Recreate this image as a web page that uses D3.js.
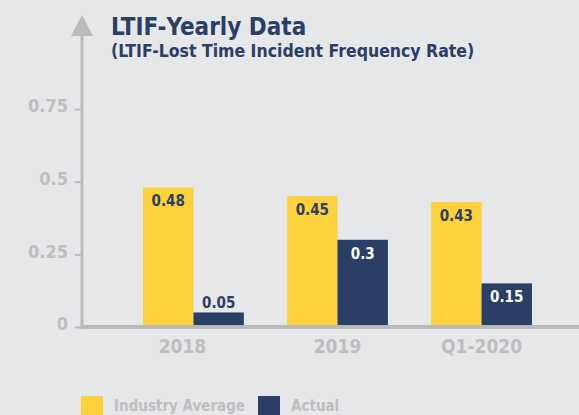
<!DOCTYPE html>
<html>
<head>
<meta charset="utf-8">
<script src="https://cdn.jsdelivr.net/npm/d3@7"></script>
<style>
  html, body { margin: 0; padding: 0; background: #e6e7e9; }
  svg text { font-family: "DejaVu Sans Condensed", sans-serif; font-weight: bold; }
</style>
</head>
<body>
<div id="chart"></div>
<script>
// data
var categories = ["2018", "2019", "Q1-2020"];
var seriesNames = ["Industry Average", "Actual"];
var industryAverage = [0.48, 0.45, 0.43];
var actual = [0.05, 0.3, 0.15];
var yTicks = [0, 0.25, 0.5, 0.75];

var svgWidth = 579, svgHeight = 415;
var navy = "#2b3e65", yellow = "#fdd13b", gray = "#b9babc", labelGray = "#bdbec0";

var svg = d3.select("#chart").append("svg")
    .attr("width", svgWidth)
    .attr("height", svgHeight);

var axisX = 82;      // vertical axis position
var baseY = 327;     // horizontal axis position

// scales
var y = d3.scaleLinear().domain([0, 0.75]).range([baseY, 109]);
var x0 = d3.scaleBand().domain(categories)
    .range([71, 604]).paddingInner(0.3).paddingOuter(0.5);
var x1 = d3.scaleBand().domain(seriesNames).range([0, x0.bandwidth()]);

var rows = categories.map(function(c, i) {
    return {cat: c, values: [
        {name: seriesNames[0], value: industryAverage[i]},
        {name: seriesNames[1], value: actual[i]}
    ]};
});
var colour = d3.scaleOrdinal().domain(seriesNames).range([yellow, navy]);

// title
var title = svg.append("text").attr("x", 111).attr("y", 35)
    .attr("font-size", 24).attr("fill", navy);
title.append("tspan").text("LTIF-").style("font-weight", 900);
title.append("tspan").text("Yearly Data");
svg.append("text").attr("x", 111).attr("y", 57)
    .attr("font-size", 17.5).attr("fill", navy)
    .text("(LTIF-Lost Time Incident Frequency Rate)");

// bars
var groups = svg.selectAll("g.grp").data(rows).enter().append("g")
    .attr("class", "grp")
    .attr("transform", function(d) { return "translate(" + x0(d.cat) + ",0)"; });

groups.selectAll("rect").data(function(d) { return d.values; }).enter().append("rect")
    .attr("x", function(d) { return x1(d.name); })
    .attr("y", function(d) { return y(d.value); })
    .attr("width", x1.bandwidth())
    .attr("height", function(d) { return baseY - y(d.value); })
    .attr("fill", function(d) { return colour(d.name); });

// value labels: inside the top of the bar, above it when the bar is too short
groups.selectAll("text.val").data(function(d) { return d.values; }).enter().append("text")
    .attr("class", "val")
    .attr("x", function(d) { return x1(d.name) + x1.bandwidth() / 2; })
    .attr("y", function(d) {
        var h = baseY - y(d.value);
        return h > 30 ? y(d.value) + 19 : y(d.value) - 4;
    })
    .attr("text-anchor", "middle")
    .attr("font-size", 15)
    .attr("fill", function(d) {
        var h = baseY - y(d.value);
        return (d.name === "Actual" && h > 30) ? "#ffffff" : navy;
    })
    .text(function(d) { return d.value; });

// y axis
var leftAxis = d3.axisLeft(y).tickValues(yTicks)
    .tickFormat(function(d) { return d; })
    .tickSize(7).tickPadding(7);
var gy = svg.append("g").attr("transform", "translate(" + axisX + ",0)").call(leftAxis);
gy.select(".domain").remove();
gy.selectAll(".tick line").attr("stroke", gray).attr("stroke-width", 2);
gy.selectAll(".tick text").attr("fill", labelGray).attr("font-size", 18)
    .attr("dy", "0.15em")
    .style("font-family", "'DejaVu Sans Condensed', sans-serif")
    .style("font-weight", "bold");

svg.append("line").attr("x1", axisX).attr("x2", axisX)
    .attr("y1", 34).attr("y2", baseY + 2)
    .attr("stroke", gray).attr("stroke-width", 3);
svg.append("path")
    .attr("d", "M" + (axisX - 11) + ",36 L" + axisX + ",15 L" + (axisX + 11) + ",36 Z")
    .attr("fill", gray);

// x axis
svg.append("line").attr("x1", axisX - 1.5).attr("x2", svgWidth)
    .attr("y1", baseY).attr("y2", baseY)
    .attr("stroke", gray).attr("stroke-width", 4);
var xOffsets = [-11, 0, 0];
svg.selectAll("text.xlab").data(categories).enter().append("text")
    .attr("class", "xlab")
    .attr("x", function(d, i) { return x0(d) + x0.bandwidth() / 2 + xOffsets[i]; })
    .attr("y", 353)
    .attr("text-anchor", "middle")
    .attr("font-size", 19)
    .attr("fill", labelGray)
    .text(function(d) { return d; });

// legend
var legendX = [81, 258];
var legend = svg.selectAll("g.leg").data(seriesNames).enter().append("g")
    .attr("class", "leg")
    .attr("transform", function(d, i) { return "translate(" + legendX[i] + ",396)"; });
legend.append("rect").attr("width", 22).attr("height", 22)
    .attr("fill", function(d) { return colour(d); });
legend.append("text").attr("x", 33).attr("y", 14.5)
    .attr("font-size", 15).attr("fill", labelGray)
    .text(function(d) { return d; });
</script>
</body>
</html>
